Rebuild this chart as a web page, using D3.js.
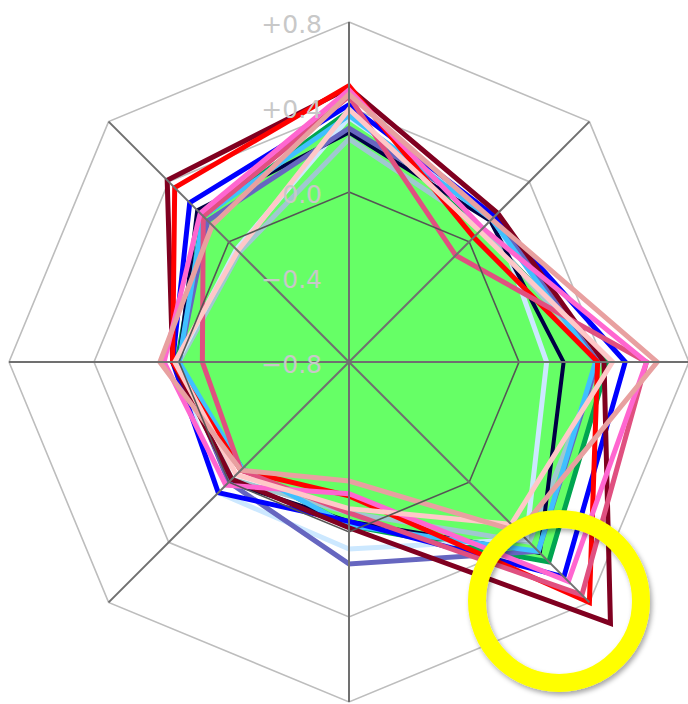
<!DOCTYPE html>
<html>
<head>
<meta charset="utf-8">
<script src="https://cdn.jsdelivr.net/npm/d3@7"></script>
<style>
    body { margin: 0; background: #ffffff; }
    svg { display: block; }
</style>
</head>
<body>
<svg class="rend_radar"></svg>
<script>
/////////////// data ////////////////
// 8 unnamed axes, clockwise from the top one
const AXES = ["a1", "a2", "a3", "a4", "a5", "a6", "a7", "a8"];
const TICKS = [-0.8, -0.4, 0.0, 0.4, 0.8];
const TICK_LABELS = ["\u22120.8", "\u22120.4", "0.0", "+0.4", "+0.8"];
// series values (drawn in this order, first one is the filled one)
const greenVals = [0.38, 0.08, 0.42, 0.53, -0.03, -0.09, 0.01, 0.17];
const tealVals = [0.25, 0.09, 0.38, 0.40, -0.09, -0.02, 0.00, -0.07];
const lightBlueVals = [0.35, 0.17, 0.13, 0.38, 0.08, 0.07, 0.01, -0.05];
const navyVals = [0.28, 0.14, 0.21, 0.47, -0.05, 0.00, 0.00, 0.21];
const periwinkleVals = [0.30, 0.17, 0.37, 0.46, 0.15, 0.00, 0.00, 0.14];
const skyBlueVals = [0.36, 0.15, 0.36, 0.46, -0.03, -0.09, 0.00, 0.17];
const blueVals = [0.41, 0.17, 0.50, 0.63, -0.05, 0.07, 0.03, 0.26];
const maroonVals = [0.49, 0.19, 0.40, 0.94, -0.02, -0.02, 0.03, 0.41];
const redVals = [0.50, 0.03, 0.37, 0.80, -0.17, -0.08, 0.03, 0.36];
const darkPinkVals = [0.45, -0.09, 0.60, 0.75, -0.09, -0.08, -0.11, 0.17];
const pinkVals = [0.48, 0.09, 0.60, 0.66, -0.18, 0.02, 0.07, 0.19];
const lightPinkVals = [0.39, 0.07, 0.44, 0.28, -0.11, -0.05, 0.02, -0.06];
const salmonVals = [0.46, 0.15, 0.65, 0.33, -0.24, -0.08, 0.09, 0.11];
const SERIES_VALUES = [greenVals, tealVals, lightBlueVals, navyVals, periwinkleVals, skyBlueVals,
    blueVals, maroonVals, redVals, darkPinkVals, pinkVals, lightPinkVals, salmonVals];
const SERIES_COLORS = ["#00a550", "#a0c8d0", "#cce8ff", "#000044", "#6666c0", "#40c0ff",
    "#0000ff", "#800020", "#ff0000", "#e05080", "#ff66d0", "#ffc8c8", "#e8a0a0"];

/////////////// layout ////////////////
const W = 688;
const H = 704;
const CX = 349;
const CY = 362;
const R = 340;
const LN_W = 5;
const SCL_R = d3.scaleLinear()
    .domain([TICKS[0], TICKS[TICKS.length - 1]])
    .range([0, R]);
const SCL_ANG = d3.scaleLinear()
    .domain([0, AXES.length])
    .range([0, 2 * Math.PI]);
const RADAR_LINE = d3.lineRadial()
    .angle((d, i) => SCL_ANG(i))
    .radius(d => SCL_R(d))
    .curve(d3.curveLinearClosed);

const RADAR_SVG = d3.select(".rend_radar")
    .attr("width", W)
    .attr("height", H);
const DEFS = RADAR_SVG.append("defs");
DEFS.append("filter")
    .attr("id", "ringShadow")
    .attr("x", "-20%").attr("y", "-20%")
    .attr("width", "140%").attr("height", "140%")
    .append("feDropShadow")
    .attr("dx", 2)
    .attr("dy", 3)
    .attr("stdDeviation", 2.5)
    .attr("flood-color", "#000")
    .attr("flood-opacity", 0.35);

const RADAR_GRP = RADAR_SVG.append("g")
    .attr("transform", `translate(${CX}, ${CY})`);

// light grid rings below the series
RADAR_GRP.append("g")
    .selectAll("path")
    .data(TICKS.filter(t => t != 0 && t != TICKS[0]))
    .enter()
    .append("path")
    .attr("d", t => RADAR_LINE(AXES.map(() => t)))
    .attr("fill", "none")
    .attr("stroke", "#bdbdbd")
    .attr("stroke-width", 1.6);

// series
RADAR_GRP.append("g")
    .selectAll("path")
    .data(SERIES_VALUES)
    .enter()
    .append("path")
    .attr("d", d => RADAR_LINE(d))
    .attr("fill", (d, i) => i == 0 ? "#66ff66" : "none")
    .attr("stroke", (d, i) => SERIES_COLORS[i])
    .attr("stroke-width", (d, i) => SERIES_COLORS[i] == "#000044" ? 4 : LN_W)
    .attr("stroke-linejoin", "miter")
    .attr("stroke-miterlimit", 10);

// zero ring and axes on top
RADAR_GRP.append("path")
    .attr("d", RADAR_LINE(AXES.map(() => 0)))
    .attr("fill", "none")
    .attr("stroke", "#555555")
    .attr("stroke-width", 1.6);
RADAR_GRP.append("g")
    .selectAll("line")
    .data(AXES)
    .enter()
    .append("line")
    .attr("x1", 0)
    .attr("y1", 0)
    .attr("x2", (d, i) => R * Math.sin(SCL_ANG(i)))
    .attr("y2", (d, i) => -R * Math.cos(SCL_ANG(i)))
    .attr("stroke", "#707070")
    .attr("stroke-width", 2);

// tick labels
RADAR_GRP.append("g")
    .selectAll("text")
    .data(TICKS)
    .enter()
    .append("text")
    .attr("x", -27)
    .attr("y", t => -SCL_R(t) + 11)
    .attr("text-anchor", "end")
    .attr("font-family", "DejaVu Sans, sans-serif")
    .attr("font-size", 25)
    .attr("fill", "#c8c8c8")
    .text((t, i) => TICK_LABELS[i]);

// highlight ring
RADAR_SVG.append("circle")
    .attr("cx", 559)
    .attr("cy", 601)
    .attr("r", 82)
    .attr("fill", "none")
    .attr("stroke", "#ffff00")
    .attr("stroke-width", 18)
    .attr("filter", "url(#ringShadow)");
</script>
</body>
</html>
